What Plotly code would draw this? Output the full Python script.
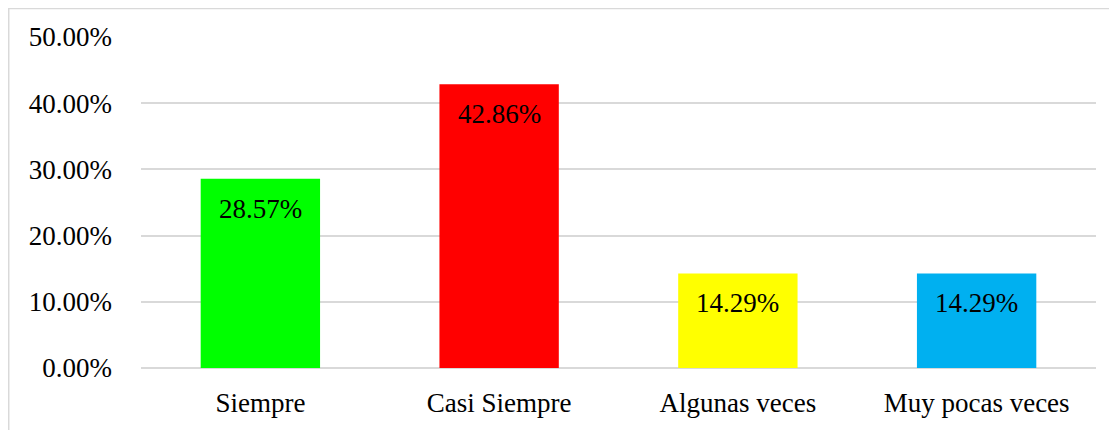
import plotly.graph_objects as go

categories = ["Siempre", "Casi Siempre", "Algunas veces", "Muy pocas veces"]
values = [28.57, 42.86, 14.29, 14.29]
bar_colors = ["#00FF00", "#FF0000", "#FFFF00", "#00B0F0"]
y_ticks = [0, 10, 20, 30, 40, 50]

font = "Liberation Serif"

fig = go.Figure()
fig.add_trace(go.Bar(
    x=categories,
    y=values,
    marker=dict(color=bar_colors, line=dict(width=0)),
    width=0.5,
    hoverinfo="skip",
))

# value labels inside the bars, a bit below the top
for c, v in zip(categories, values):
    fig.add_annotation(
        x=c, y=v, text=f"{v:.2f}%", showarrow=False,
        yanchor="top", yshift=-13,
        font=dict(family=font, size=27, color="#000000"),
    )

# outer chart border (right and bottom edges fall outside the view)
fig.add_shape(
    type="rect", xref="paper", yref="paper",
    x0=-0.1385, x1=1.05, y0=-0.4, y1=1.0858,
    line=dict(color="#D9D9D9", width=1.5), fillcolor="rgba(0,0,0,0)",
    layer="below",
)

# page body adds an 8px offset, so margins are shifted to compensate
fig.update_layout(
    width=1117, height=430,
    margin=dict(l=133, r=29, t=29, b=70),
    paper_bgcolor="white",
    plot_bgcolor="white",
    showlegend=False,
    font=dict(family=font, size=27, color="#000000"),
)
fig.update_yaxes(
    range=[0, 50],
    tickvals=y_ticks,
    ticktext=[f"{t:.2f}%" for t in y_ticks],
    showgrid=True, gridcolor="#D9D9D9", gridwidth=1.5,
    zeroline=True, zerolinecolor="#D9D9D9", zerolinewidth=1.5,
    showline=False, ticks="", ticklabelstandoff=28,
    tickfont=dict(family=font, size=27),
)
fig.update_xaxes(
    showline=False, ticks="", ticklabelstandoff=16,
    tickfont=dict(family=font, size=27),
)

fig.write_html("out.html")
